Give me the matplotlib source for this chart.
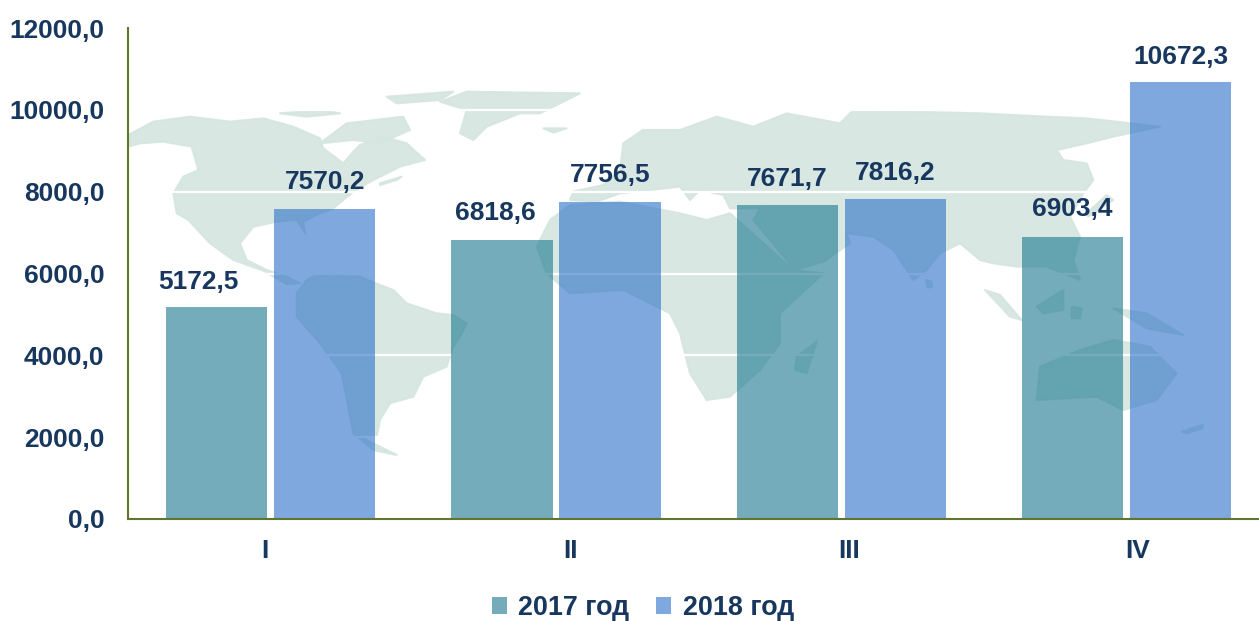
import matplotlib
matplotlib.use("Agg")
import matplotlib.pyplot as plt
from matplotlib.patches import Polygon, Patch

plt.rcParams['font.family'] = ['Liberation Sans', 'DejaVu Sans']

categories = ['I', 'II', 'III', 'IV']
series_names = ['2017 год', '2018 год']
values_2017 = [5172.5, 6818.6, 7671.7, 6903.4]
values_2018 = [7570.2, 7756.5, 7816.2, 10672.3]
labels_2017 = ['5172,5', '6818,6', '7671,7', '6903,4']
labels_2018 = ['7570,2', '7756,5', '7816,2', '10672,3']
y_ticks = [0, 2000, 4000, 6000, 8000, 10000, 12000]
y_tick_labels = ['0,0', '2000,0', '4000,0', '6000,0', '8000,0', '10000,0', '12000,0']

W, H = 1259, 621
DARK = '#17375E'
TEAL = (23/255, 118/255, 142/255)
BLUE = (42/255, 112/255, 200/255)
ALPHA = 0.6
MAP = '#D5E5E0'
AXIS = '#5F7530'
FS = 18.9

fig = plt.figure(figsize=(W/100, H/100), dpi=100)

# decorative world map, traced in reference pixels
bg = fig.add_axes([0, 0, 1, 1], zorder=0)
bg.set_xlim(0, W); bg.set_ylim(H, 0); bg.axis('off')

def z1(pts): return [(120 + x/3, 80 + y/3) for x, y in pts]
def z2(pts): return [(680 + x/3, 80 + y/3) for x, y in pts]

shapes = [
    z1([(25,165),(100,125),(210,110),(330,125),(430,115),(520,140),(600,175),(610,205),(670,250),(700,215),(720,195),(790,170),(860,190),(915,240),(840,260),(760,300),(700,335),(640,385),(600,400),(550,425),(555,460),(530,420),(470,425),(400,440),(360,490),(380,540),(440,570),(500,590),(540,610),(500,612),(430,572),(340,540),(270,490),(205,420),(170,400),(160,340),(190,290),(235,270),(215,200),(130,185),(60,190),(25,200)]),
    z1([(530,640),(560,600),(590,585),(720,590),(780,615),(820,630),(860,670),(950,700),(1000,705),(1040,730),(1020,770),(1000,800),(980,860),(910,890),(880,950),(810,970),(780,1020),(770,1070),(720,1070),(830,1125),(760,1110),(700,1060),(665,880),(600,790),(530,710)]),
    z1([(960,65),(1040,35),(1380,40),(1260,100),(1200,100),(1100,140),(1060,180),(1020,160),(1040,90)]),
    z1([(600,190),(680,130),(850,110),(870,150),(780,190),(700,180)]),
    z1([(480,100),(600,90),(660,100),(560,110)]),
    z1([(800,50),(1000,35),(960,60),(830,70)]),
    z1([(780,310),(845,290),(830,300),(780,315)]),
    z1([(1270,145),(1340,145),(1300,158)]),
    # Eurasia
    z1([(1350,360),(1360,335),(1450,315),(1500,270),(1510,190),(1568,150)]) +
    z2([(0,150),(110,110),(220,140),(320,100),(480,130),(520,90),(700,95),(900,100),(1100,110),(1220,115),(1440,140),(1300,170),(1220,190),(1130,210),(1150,240),(1220,250),(1240,300),(1210,340),(1170,410),(1200,470),(1180,540),(1200,600),(1100,560),(1010,560),(940,550),(900,540),(840,490),(780,520),(740,570),(700,600),(640,510),(580,470),(500,460),(510,490),(430,545),(345,570),(220,420),(240,385),(150,385),(130,345),(60,330),(30,360),(0,320)]) +
    z1([(1500,340),(1430,365)]),
    # Africa
    z1([(1250,500),(1290,420),(1350,375),(1500,365)]) +
    z2([(0,400),(80,420),(150,400),(340,570),(430,580),(300,700),(300,790),(240,870),(150,950),(80,960),(30,880),(0,760),(-30,700)]) +
    z1([(1510,630),(1350,640),(1280,580)]),
    z2([(345,870),(350,830),(410,785),(380,880)]),
    z2([(1080,860),(1200,810),(1300,780),(1410,800),(1490,880),(1430,960),(1330,990),(1250,950),(1070,960)]),
    z2([(1070,680),(1150,630),(1150,690),(1090,700)]),
    z2([(915,630),(960,645),(1025,720),(990,710)]),
    z2([(1300,685),(1400,700),(1510,765),(1400,745)]),
    z2([(1280,345),(1300,360),(1225,410),(1220,400)]),
    z2([(1505,1055),(1568,1035),(1568,1045),(1520,1060)]),
    z2([(738,600),(755,605),(755,622),(742,622)]),
    z2([(1175,680),(1205,685),(1200,715),(1175,715)]),
]
for s in shapes:
    bg.add_patch(Polygon(s, closed=True, facecolor=MAP, edgecolor=MAP, lw=1.5, alpha=0.9, joinstyle='round'))

# chart
L, R, T, B = 128, W, 28, 519
ax = fig.add_axes([L/W, 1 - B/H, (R - L)/W, (B - T)/H], zorder=1)
ax.patch.set_alpha(0)
STEP = 285.3
ax.set_xlim(-0.5, -0.5 + (R - L)/STEP)
ax.set_ylim(0, 12000)

x = list(range(len(categories)))
w = 101.5/STEP
off = 54/STEP
ax.set_axisbelow(True)
ax.yaxis.grid(True, color='white', lw=1.6)
ax.bar([i - off for i in x], values_2017, w, color=TEAL, alpha=ALPHA, zorder=2, label=series_names[0])
ax.bar([i + off for i in x], values_2018, w, color=BLUE, alpha=ALPHA, zorder=2, label=series_names[1])

dx_2017 = [-18.5, -7, 0, 0]
dy_2017 = [25, 27, 26, 28]
dy_2018 = [27, 27, 26, 25]
for i in x:
    ax.annotate(labels_2017[i], (i - off, values_2017[i]), xytext=(dx_2017[i]*.72, dy_2017[i]*.72),
                textcoords='offset points', ha='center', va='center', fontsize=FS, fontweight='bold', color=DARK, zorder=3)
    ax.annotate(labels_2018[i], (i + off, values_2018[i]), xytext=(0, dy_2018[i]*.72),
                textcoords='offset points', ha='center', va='center', fontsize=FS, fontweight='bold', color=DARK, zorder=3)

# category labels sit off-centre in the reference
cat_dx = [-6, 15, 8, 11]
ax.set_xticks(x); ax.set_xticklabels([])
ax.tick_params(axis='x', length=0)
for i in x:
    ax.annotate(categories[i], (i, 0), xytext=(cat_dx[i]*.72, -32*.72), textcoords='offset points',
                ha='center', va='center', fontsize=FS, fontweight='bold', color=DARK, annotation_clip=False)

ax.set_yticks(y_ticks); ax.set_yticklabels(y_tick_labels, fontsize=FS, fontweight='bold', color=DARK)
ax.tick_params(axis='y', length=0, pad=17)
for s in ('top', 'right'):
    ax.spines[s].set_visible(False)
for s in ('left', 'bottom'):
    ax.spines[s].set_color(AXIS); ax.spines[s].set_linewidth(1.5)

handles = [Patch(facecolor=TEAL, alpha=ALPHA, edgecolor='none'), Patch(facecolor=BLUE, alpha=ALPHA, edgecolor='none')]
leg = fig.legend(handles, series_names, loc='center', bbox_to_anchor=(643/W, 1 - 608/H), ncol=2, frameon=False,
                 prop={'size': 19.4, 'weight': 'bold'}, handlelength=0.55, handleheight=0.55,
                 handletextpad=0.42, columnspacing=1.0, borderpad=0)
for t in leg.get_texts():
    t.set_color(DARK)

fig.savefig('out.png', dpi=100)
